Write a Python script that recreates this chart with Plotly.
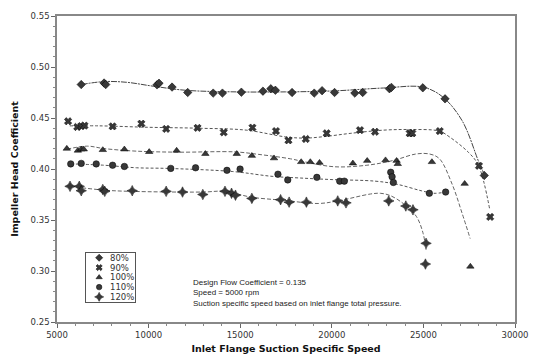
import plotly.graph_objects as go

# ---------------- data ----------------
series_names = ["80%", "90%", "100%", "110%", "120%"]

# measured points
x80 = [6322, 7570, 7660, 10460, 10567, 11280, 12135, 13527, 14030, 15064, 16241, 16670, 16921,
       17831, 19041, 19470, 20150, 21257, 21686, 23147, 23254, 24967, 26182, 28323]
y80 = [0.4828, 0.4843, 0.4828, 0.4825, 0.4841, 0.4803, 0.4750, 0.4744, 0.4744, 0.4753, 0.4763, 0.4787, 0.4772,
       0.4750, 0.4744, 0.4768, 0.4750, 0.4744, 0.4750, 0.4787, 0.4800, 0.4796, 0.4688, 0.3937]

x90 = [5605, 6108, 6322, 6499, 8035, 9604, 10958, 12671, 14100, 15668, 16953, 17633, 18580, 19720,
       21540, 22359, 24250, 24394, 25893, 28034, 28644]
y90 = [0.4468, 0.4412, 0.4421, 0.4425, 0.4418, 0.4444, 0.4393, 0.4403, 0.4359, 0.4406, 0.4372, 0.4281, 0.4294, 0.4350,
       0.4381, 0.4365, 0.4350, 0.4350, 0.4372, 0.4031, 0.3530]

x100 = [5535, 6140, 6322, 6461, 7500, 8678, 10032, 11531, 13099, 14812, 15636, 16846, 18329, 18827,
        19330, 21150, 21932, 22933, 23537, 23600, 25464, 27252, 27563]
y100 = [0.4200, 0.4181, 0.4193, 0.4193, 0.4187, 0.4193, 0.4168, 0.4181, 0.4149, 0.4149, 0.4130, 0.4106, 0.4069, 0.4069,
        0.4062, 0.4056, 0.4081, 0.4087, 0.4081, 0.4050, 0.4069, 0.3856, 0.3044]

x110 = [5749, 6322, 7141, 8035, 8677, 11209, 12564, 14277, 14994, 17060, 17596, 19185, 20432, 20684,
        23216, 23291, 23360, 25325, 26214]
y110 = [0.4050, 0.4055, 0.4050, 0.4037, 0.4025, 0.4006, 0.4012, 0.3987, 0.3999, 0.3949, 0.3893, 0.3918, 0.3881, 0.3881,
        0.3968, 0.3924, 0.3868, 0.3762, 0.3774]

x120 = [5712, 6215, 6322, 7500, 7607, 9106, 10958, 11852, 12960, 14170, 14528, 14742, 15636, 17205,
        17670, 18613, 20325, 20775, 23109, 24041, 24431, 25145, 25111]
y120 = [0.3830, 0.3830, 0.3787, 0.3799, 0.3781, 0.3787, 0.3781, 0.3774, 0.3750, 0.3781, 0.3762, 0.3743, 0.3712, 0.3699,
        0.3675, 0.3675, 0.3687, 0.3668, 0.3687, 0.3637, 0.3600, 0.3271, 0.3068]

# fitted curves
fx80 = [6322, 7570, 8800, 10246, 12012, 14796, 17472, 20150, 22826, 24967, 26038, 27109, 28019, 28340]
fy80 = [0.4828, 0.4857, 0.4850, 0.4812, 0.4772, 0.4756, 0.4756, 0.4766, 0.4794, 0.4803, 0.4709, 0.4475, 0.4071, 0.3940]

fx90 = [5696, 7302, 9978, 12655, 15331, 17472, 18543, 19613, 21043, 22826, 24254, 25860, 26396, 27466, 28001, 28622]
fy90 = [0.4423, 0.4423, 0.4409, 0.4400, 0.4381, 0.4315, 0.4303, 0.4318, 0.4350, 0.4381, 0.4387, 0.4372, 0.4318, 0.4162, 0.4037, 0.3602]

fx100 = [5535, 6659, 7570, 9336, 11691, 14689, 15974, 17740, 18543, 20150, 21916, 23361, 24592, 25341, 25877, 26573, 27109, 27553]
fy100 = [0.4194, 0.4224, 0.4200, 0.4175, 0.4165, 0.4168, 0.4144, 0.4100, 0.4069, 0.4022, 0.4037, 0.4084, 0.4147, 0.4147, 0.4100, 0.3849, 0.3568, 0.3318]

fx110 = [5749, 7570, 9336, 11012, 14599, 16740, 18239, 20059, 22361, 23592, 24877, 25573, 26250]
fy110 = [0.4050, 0.4037, 0.4012, 0.4006, 0.3975, 0.3928, 0.3912, 0.3896, 0.3881, 0.3849, 0.3787, 0.3762, 0.3775]

fx120 = [5712, 7570, 8999, 12922, 14170, 15599, 17381, 19255, 20325, 22113, 22648, 23184, 23896, 24608, 24967, 25145]
fy120 = [0.3830, 0.3793, 0.3781, 0.3774, 0.3781, 0.3724, 0.3693, 0.3662, 0.3687, 0.3755, 0.3762, 0.3740, 0.3662, 0.3537, 0.3380, 0.3208]

x_ticks = [5000, 10000, 15000, 20000, 25000, 30000]
y_ticks = [0.25, 0.30, 0.35, 0.40, 0.45, 0.50, 0.55]
note_lines = ["Design Flow Coefficient = 0.135",
              "Speed = 5000 rpm",
              "Suction specific speed based on inlet flange total pressure."]

# ---------------- styling ----------------
points = [(x80, y80), (x90, y90), (x100, y100), (x110, y110), (x120, y120)]
fits = [(fx80, fy80), (fx90, fy90), (fx100, fy100), (fx110, fy110), (fx120, fy120)]
symbols = ["diamond", "x", "triangle-up", "circle", "star-diamond"]
msizes = [6.5, 6.5, 6.5, 6.5, 7.5]
dashes = ["6px,1px,2px,1px", "3px,2px", "4px,2px", "3px,2px", "4px,2px"]
line_colors = ["#444", "#555", "#666", "#555", "#666"]
mcolor = "#383838"

fig = go.Figure()

for (fx, fy), dash, lc in zip(fits, dashes, line_colors):
    fig.add_trace(go.Scatter(x=fx, y=fy, mode="lines", showlegend=False, hoverinfo="skip",
                             line=dict(color=lc, width=1, dash=dash, shape="spline", smoothing=1.0)))

for (px, py), sym, ms, name in zip(points, symbols, msizes, series_names):
    fig.add_trace(go.Scatter(x=px, y=py, mode="markers", name=name, showlegend=False,
                             marker=dict(symbol=sym, size=ms, color=mcolor,
                                         line=dict(color="#000", width=0.5))))

# legend box drawn on a small inset axis
leg_y = [4.5, 3.5, 2.5, 1.5, 0.5]
for sym, ms, name, ly in zip(symbols, msizes, series_names, leg_y):
    fig.add_trace(go.Scatter(x=[0.26], y=[ly], mode="markers", xaxis="x2", yaxis="y2",
                             showlegend=False, hoverinfo="skip",
                             marker=dict(symbol=sym, size=ms - 1, color=mcolor,
                                         line=dict(color="#000", width=0.5))))
    fig.add_annotation(x=0.44, y=ly, xref="x2", yref="y2", text=name, showarrow=False,
                       xanchor="left", yanchor="middle",
                       font=dict(family="DejaVu Sans", size=8.5, color="#333"))

fig.add_annotation(x=0.2934, y=0.150, xref="paper", yref="paper", text="<br>".join(note_lines),
                   showarrow=False, xanchor="left", yanchor="top", align="left",
                   font=dict(family="Liberation Sans", size=8, color="#222"))

axis_font = dict(family="DejaVu Sans", size=8.5, color="#333")
title_font = dict(family="DejaVu Sans", size=9.5, color="#111", weight="bold")

fig.update_layout(
    width=540, height=364,
    margin=dict(l=57, r=16, t=11, b=35),
    paper_bgcolor="white", plot_bgcolor="white",
    showlegend=False,
    xaxis=dict(range=[5000, 30000], tickvals=x_ticks, ticktext=[str(v) for v in x_ticks],
               showgrid=False, zeroline=False, showline=True, mirror=True,
               linecolor="#888", linewidth=1.5, ticks="outside", ticklen=4, tickcolor="#666",
               minor=dict(dtick=1000, ticks="outside", ticklen=2, tickcolor="#888"),
               tickfont=axis_font,
               title=dict(text="Inlet Flange Suction Specific Speed", font=title_font, standoff=6)),
    yaxis=dict(range=[0.25, 0.55], tickvals=y_ticks, ticktext=["%.2f" % v for v in y_ticks],
               showgrid=False, zeroline=False, showline=True, mirror=True,
               linecolor="#888", linewidth=1.5, ticks="outside", ticklen=4, tickcolor="#666",
               minor=dict(dtick=0.01, ticks="outside", ticklen=2, tickcolor="#888"),
               tickfont=axis_font,
               title=dict(text="Impeller Head Coefficient", font=title_font, standoff=10)),
    xaxis2=dict(domain=[0.0642, 0.1713], range=[0, 1], anchor="y2", showgrid=False, zeroline=False,
                showticklabels=False, ticks="", showline=True, mirror=True, linecolor="#555", linewidth=1),
    yaxis2=dict(domain=[0.066, 0.226], range=[0, 5], anchor="x2", showgrid=False, zeroline=False,
                showticklabels=False, ticks="", showline=True, mirror=True, linecolor="#555", linewidth=1),
)

fig.write_html("out.html")
